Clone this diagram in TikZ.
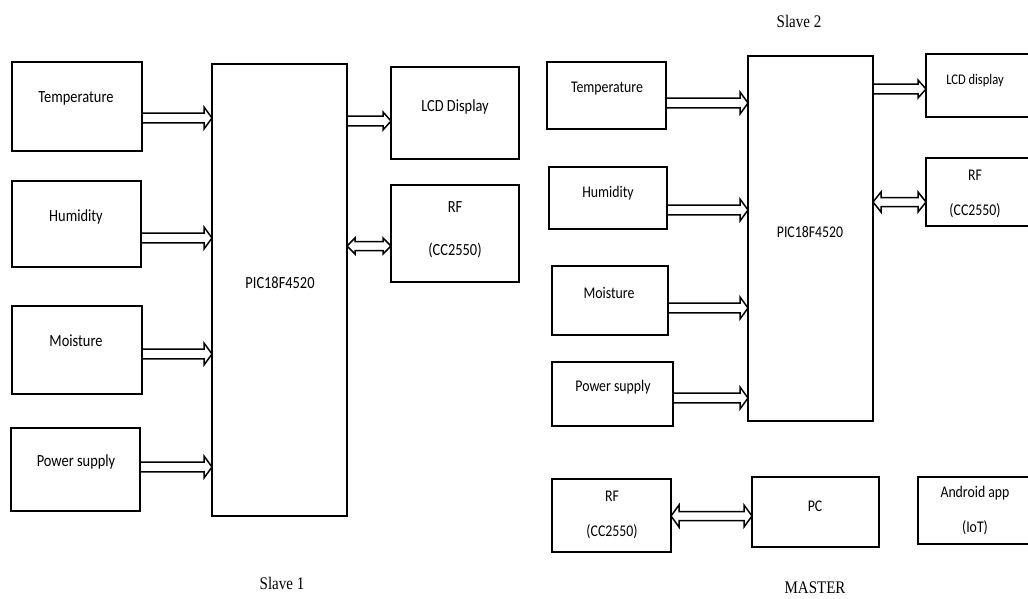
\documentclass[tikz,border=0pt]{standalone}
\usepackage{fontspec}
\usepackage{graphicx}
\setmainfont{Liberation Serif}
\newfontfamily\calfont{Carlito}
\usetikzlibrary{calc}
\newcommand\tl[1]{\scalebox{1}[1.18]{#1}}
% block arrow: optional head half-height, start, end (horizontal)
\newcommand\barr[3][11]{\draw[arrline] let \p1=#2, \p2=#3 in
  (\x1,\y1+4.8pt) -- (\x2-8pt,\y1+4.8pt) -- (\x2-8pt,\y1+#1pt) -- (\x2,\y1)
  -- (\x2-8pt,\y1-#1pt) -- (\x2-8pt,\y1-4.8pt) -- (\x1,\y1-4.8pt);}
\newcommand\bbarr[3][11]{\draw[arrline] let \p1=#2, \p2=#3 in
  (\x1,\y1) -- (\x1+8pt,\y1+#1pt) -- (\x1+8pt,\y1+4.5pt) -- (\x2-8pt,\y1+4.5pt)
  -- (\x2-8pt,\y1+#1pt) -- (\x2,\y1) -- (\x2-8pt,\y1-#1pt) -- (\x2-8pt,\y1-4.5pt)
  -- (\x1+8pt,\y1-4.5pt) -- (\x1+8pt,\y1-#1pt) -- cycle;}
\begin{document}
\begin{tikzpicture}[x=1pt,y=-1pt,
  box/.style={draw, line width=1.8pt, inner sep=0pt, outer sep=0pt, anchor=north west},
  lbl/.style={font=\calfont\fontsize{14.4}{16}\selectfont, inner sep=0pt},
  rlbl/.style={font=\calfont\fontsize{13.8}{16}\selectfont, inner sep=0pt},
  ttl/.style={font=\fontsize{15}{18}\selectfont, inner sep=0pt},
  arrline/.style={draw, line width=1.5pt, line join=miter}]
\useasboundingbox (0,0) rectangle (1028,598);
% ---------- Slave 1 ----------
\node[box, minimum width=130pt, minimum height=89pt] (t1) at (12,62) {};
\node[box, minimum width=129pt, minimum height=86pt] (h1) at (12,181) {};
\node[box, minimum width=130pt, minimum height=88pt] (m1) at (12,306) {};
\node[box, minimum width=129pt, minimum height=83pt] (p1) at (11,428) {};
\node[box, minimum width=135pt, minimum height=452pt] (pic1) at (212,64) {};
\node[box, minimum width=128pt, minimum height=92pt] (lcd1) at (391,67) {};
\node[box, minimum width=128pt, minimum height=97pt] (rf1) at (391,185) {};
\node[lbl] (t1l) at (76,98) {\tl{Temperature}};
\node[lbl] (h1l) at (76,217) {\tl{Humidity}};
\node[lbl] (m1l) at (76,341) {\tl{Moisture}};
\node[lbl] (p1l) at (76,462) {\tl{Power supply}};
\node[lbl] (pic1l) at (280,283) {\tl{PIC18F4520}};
\node[lbl] (lcd1l) at (455,107) {\tl{LCD Display}};
\node[lbl] (rf1a) at (455,207) {\tl{RF}};
\node[lbl] (rf1b) at (455,250) {\tl{(CC2550)}};
\node[ttl] (s1) at (282,583) {\tl{Slave 1}};
\barr{(t1.east |- 0,118)}{(pic1.west |- 0,118)}
\barr{(h1.east |- 0,238)}{(pic1.west |- 0,238)}
\barr{(m1.east |- 0,354)}{(pic1.west |- 0,354)}
\barr{(p1.east |- 0,467)}{(pic1.west |- 0,467)}
\barr[9]{(pic1.east |- 0,121)}{(lcd1.west |- 0,121)}
\bbarr[8]{(pic1.east |- 0,246)}{(rf1.west |- 0,246)}
% ---------- Slave 2 ----------
\node[box, minimum width=119pt, minimum height=67pt] (t2) at (547,62) {};
\node[box, minimum width=118pt, minimum height=62pt] (h2) at (549,167) {};
\node[box, minimum width=116pt, minimum height=69pt] (m2) at (552,266) {};
\node[box, minimum width=121pt, minimum height=64pt] (p2) at (552,362) {};
\node[box, minimum width=125pt, minimum height=365pt] (pic2) at (748,56) {};
\node[box, minimum width=109pt, minimum height=63pt] (lcd2) at (926,54) {};
\node[box, minimum width=109pt, minimum height=68pt] (rf2) at (926,158) {};
\node[rlbl] (t2l) at (607,89) {\tl{Temperature}};
\node[rlbl] (h2l) at (608,193) {\tl{Humidity}};
\node[rlbl] (m2l) at (609,293) {\tl{Moisture}};
\node[rlbl] (p2l) at (613,387) {\tl{Power supply}};
\node[rlbl] (pic2l) at (810,232) {\tl{PIC18F4520}};
\node[rlbl, font=\calfont\fontsize{12.5}{15}\selectfont] (lcd2l) at (975,81) {\tl{LCD display}};
\node[rlbl] (rf2a) at (975,175) {\tl{RF}};
\node[rlbl] (rf2b) at (975,211) {\tl{(CC2550)}};
\node[ttl] (s2) at (799,21) {\tl{Slave 2}};
\barr{(t2.east |- 0,103)}{(pic2.west |- 0,103)}
\barr{(h2.east |- 0,210)}{(pic2.west |- 0,210)}
\barr{(m2.east |- 0,308)}{(pic2.west |- 0,308)}
\barr{(p2.east |- 0,398)}{(pic2.west |- 0,398)}
\barr[9]{(pic2.east |- 0,89)}{(lcd2.west |- 0,89)}
\bbarr[10]{(pic2.east |- 0,202)}{(rf2.west |- 0,202)}
% ---------- Master ----------
\node[box, minimum width=119pt, minimum height=73pt] (rf3) at (552,479) {};
\node[box, minimum width=127pt, minimum height=70pt] (pc) at (752,477) {};
\node[box, minimum width=117pt, minimum height=67pt] (and) at (918,477) {};
\node[rlbl] (rf3a) at (612,496) {\tl{RF}};
\node[rlbl] (rf3b) at (612,532) {\tl{(CC2550)}};
\node[rlbl] (pcl) at (815,506) {\tl{PC}};
\node[rlbl] (anda) at (975,493) {\tl{Android app}};
\node[rlbl] (andb) at (975,528) {\tl{(IoT)}};
\node[ttl] (ms) at (815,588) {\tl{MASTER}};
\bbarr[11]{(rf3.east |- 0,516)}{(pc.west |- 0,516)}
\end{tikzpicture}
\end{document}
